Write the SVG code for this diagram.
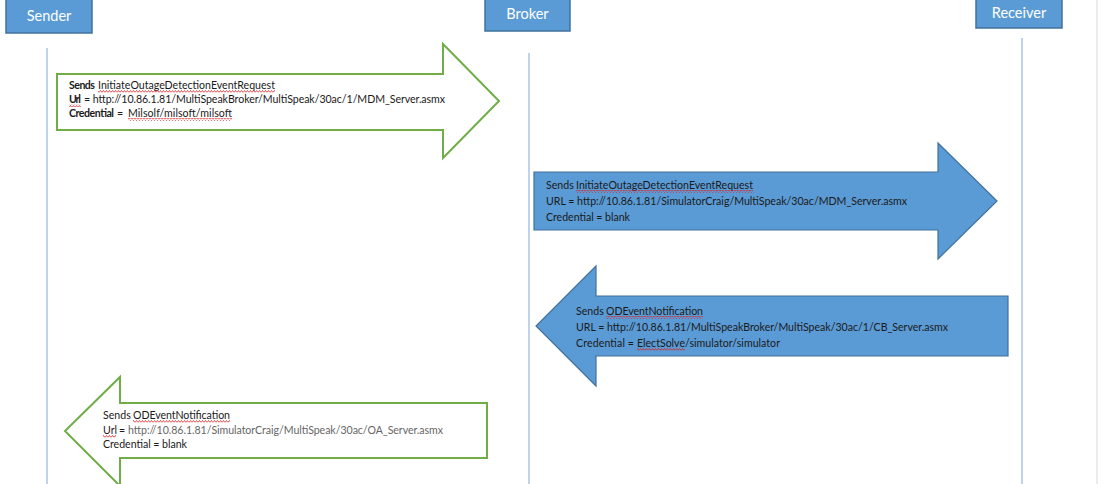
<svg xmlns="http://www.w3.org/2000/svg" width="1103" height="484" viewBox="0 0 1103 484">
<style>
.hdr{fill:#5B9BD5;stroke:#41719C;stroke-width:1.5}
.hdrt{font-family:Lato,"Liberation Sans",sans-serif;font-size:14.5px;fill:#fff;text-anchor:middle}
.life{stroke:#94B6E0;stroke-width:1.2;fill:none}
.ga{fill:#fff;stroke:#70AD47;stroke-width:2}
.ba{fill:#5B9BD5;stroke:#41719C;stroke-width:1.2}
.t{font-family:Lato,"Liberation Sans",sans-serif;font-size:10.6px;fill:#1a1a1a}
.b{font-weight:bold}
.g{fill:#666}
.sq{fill:url(#squig)}
</style>
<defs>
<pattern id="squig" x="0" y="0" width="3" height="3" patternUnits="userSpaceOnUse">
<path d="M0,2.5 L1.5,0.5 L3,2.5" fill="none" stroke="#E02020" stroke-width="0.8"/>
</pattern>
</defs>
<rect width="1103" height="484" fill="#fff"/>
<line x1="1097" y1="0" x2="1097" y2="484" stroke="#D9D9D9" stroke-width="1"/>
<g id="lifelines">
<line class="life" x1="47" y1="48" x2="47" y2="484"/>
<line class="life" x1="529" y1="53" x2="529" y2="484"/>
<line class="life" x1="1022" y1="38" x2="1022" y2="484"/>
</g>
<g id="sender">
<rect class="hdr" x="6" y="-2" width="86" height="35"/>
<text class="hdrt" x="49" y="21">Sender</text>
</g>
<g id="broker">
<rect class="hdr" x="485" y="-2" width="85" height="33"/>
<text class="hdrt" x="527.5" y="19">Broker</text>
</g>
<g id="receiver">
<rect class="hdr" x="976" y="-2" width="86" height="30"/>
<text class="hdrt" x="1019" y="18">Receiver</text>
</g>
<g id="connectors">
<g id="msg1">
<polygon class="ga" points="57,74 443,74 443,44 499,101 443,158 443,130 57,130"/>
<text class="t" y="89"><tspan class="b" x="69" textLength="26">Sends</tspan><tspan x="98" textLength="177">InitiateOutageDetectionEventRequest</tspan></text>
<text class="t" y="103"><tspan class="b" x="69" textLength="12">Url</tspan><tspan x="84" textLength="361">= http://10.86.1.81/MultiSpeakBroker/MultiSpeak/30ac/1/MDM_Server.asmx</tspan></text>
<text class="t" y="117"><tspan class="b" x="69" textLength="45">Credential</tspan><tspan x="117">=</tspan><tspan x="128" textLength="104">Milsolf/milsoft/milsoft</tspan></text>
<rect class="sq" x="98" y="90" width="177" height="3"/>
<rect class="sq" x="69" y="104" width="12" height="3"/>
<rect class="sq" x="128" y="118" width="104" height="3"/>
</g>
<g id="msg2">
<polygon class="ba" points="534,172 938,172 938,143 997,201 938,259 938,230 534,230"/>
<text class="t" y="189"><tspan x="546">Sends</tspan><tspan x="576" textLength="177">InitiateOutageDetectionEventRequest</tspan></text>
<text class="t" x="546" y="205" textLength="361">URL = http://10.86.1.81/SimulatorCraig/MultiSpeak/30ac/MDM_Server.asmx</text>
<text class="t" x="546" y="221" textLength="84">Credential = blank</text>
<rect class="sq" x="576" y="190" width="177" height="3"/>
</g>
<g id="msg3">
<polygon class="ba" points="1008,296 596,296 596,266 536,326 596,386 596,356 1008,356"/>
<text class="t" y="315"><tspan x="576">Sends</tspan><tspan x="606" textLength="97">ODEventNotification</tspan></text>
<text class="t" x="576" y="331" textLength="372">URL = http://10.86.1.81/MultiSpeakBroker/MultiSpeak/30ac/1/CB_Server.asmx</text>
<text class="t" y="347"><tspan x="576" textLength="58">Credential =</tspan><tspan x="637" textLength="48">ElectSolve</tspan><tspan x="685" textLength="95">/simulator/simulator</tspan></text>
<rect class="sq" x="606" y="316" width="97" height="3"/>
<rect class="sq" x="637" y="348" width="48" height="3"/>
</g>
<g id="msg4">
<polygon class="ga" points="487,403 120,403 120,377 65,431 120,486 120,458 487,458"/>
<text class="t" y="419"><tspan x="103">Sends</tspan><tspan x="133" textLength="97">ODEventNotification</tspan></text>
<text class="t" y="434"><tspan x="103">Url</tspan><tspan x="119">=</tspan><tspan class="g" x="128" textLength="315">http://10.86.1.81/SimulatorCraig/MultiSpeak/30ac/OA_Server.asmx</tspan></text>
<text class="t" x="103" y="448" textLength="84">Credential = blank</text>
<rect class="sq" x="133" y="420" width="97" height="3"/>
<rect class="sq" x="103" y="435" width="13" height="3"/>
</g>
</g>
</svg>
